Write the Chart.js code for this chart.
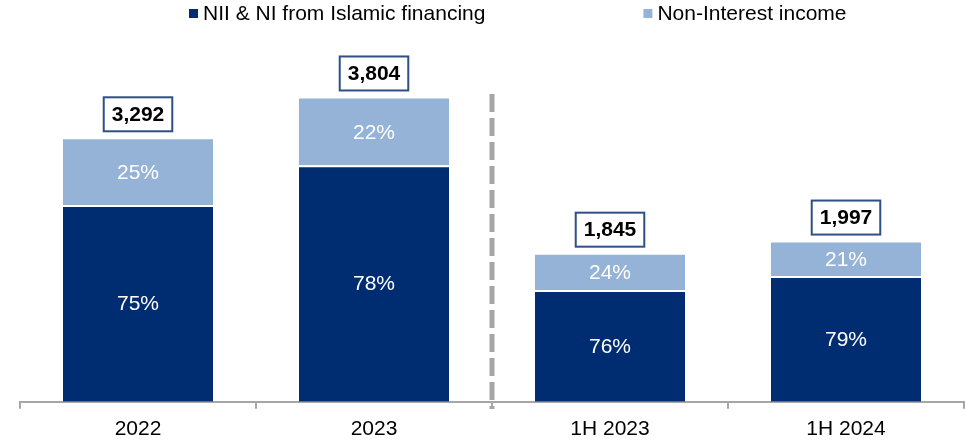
<!DOCTYPE html>
<html>
<head>
<meta charset="utf-8">
<script src="https://cdn.jsdelivr.net/npm/chart.js@4"></script>
<style>
    html, body { margin: 0; padding: 0; background: #fff; }
    #wrap { position: relative; width: 965px; height: 442px; }
</style>
</head>
<body>
<div id="wrap"><canvas id="incomeChart" width="965" height="442"></canvas></div>
<script>
// Chart data
var categories = ['2022', '2023', '1H 2023', '1H 2024'];
var seriesNames = ['NII & NI from Islamic financing', 'Non-Interest income'];
var niiValues = [2469, 2967, 1402, 1578];
var nonInterestValues = [823, 837, 443, 419];
var niiPct = ['75%', '78%', '76%', '79%'];
var nonInterestPct = ['25%', '22%', '24%', '21%'];
var totalLabels = ['3,292', '3,804', '1,845', '1,997'];

var DARK = '#002D72';
var LIGHT = '#95B3D7';
var GREY = '#A6A6A6';
var FONT = "'Liberation Sans', Arial, sans-serif";

// Percent labels inside segments + boxed totals on top
var labelPlugin = {
    id: 'labels',
    afterDatasetsDraw: function(chart) {
        var ctx = chart.ctx;
        var pctSets = [niiPct, nonInterestPct];
        ctx.save();
        ctx.textAlign = 'center';
        ctx.textBaseline = 'middle';
        ctx.font = '21px ' + FONT;
        ctx.fillStyle = '#fff';
        pctSets.forEach(function(pcts, di) {
            chart.getDatasetMeta(di).data.forEach(function(bar, i) {
                ctx.fillText(pcts[i], bar.x, (bar.y + bar.base) / 2 + 1);
            });
        });

        // totals
        var topMeta = chart.getDatasetMeta(1);
        ctx.font = 'bold 21px ' + FONT;
        topMeta.data.forEach(function(bar, i) {
            var w = ctx.measureText(totalLabels[i]).width + 16;
            var h = 34;
            var bottom = bar.y - 8;
            ctx.fillStyle = '#fff';
            ctx.fillRect(bar.x - w / 2, bottom - h, w, h);
            ctx.lineWidth = 2;
            ctx.strokeStyle = '#2F4F86';
            ctx.strokeRect(bar.x - w / 2, bottom - h, w, h);
            ctx.fillStyle = '#000';
            ctx.fillText(totalLabels[i], bar.x, bottom - h / 2 + 1);
        });
        ctx.restore();
    }
};

// Dashed divider between full years and half years
var dividerPlugin = {
    id: 'divider',
    afterDraw: function(chart) {
        var xs = chart.scales.x;
        var x = (xs.getPixelForValue(1) + xs.getPixelForValue(2)) / 2;
        var ctx = chart.ctx;
        ctx.save();
        ctx.strokeStyle = GREY;
        ctx.lineWidth = 5;
        ctx.setLineDash([18, 6]);
        ctx.beginPath();
        ctx.moveTo(x, 94);
        ctx.lineTo(x, 409);
        ctx.stroke();
        ctx.restore();
    }
};

// Legend drawn on canvas
var legendPlugin = {
    id: 'customLegend',
    afterDraw: function(chart) {
        var ctx = chart.ctx;
        var colors = [DARK, LIGHT];
        var x = 189;
        ctx.save();
        ctx.font = '21px ' + FONT;
        ctx.textBaseline = 'middle';
        ctx.textAlign = 'left';
        seriesNames.forEach(function(name, i) {
            ctx.fillStyle = colors[i];
            ctx.fillRect(x, 9, 9, 9);
            ctx.fillStyle = '#000';
            ctx.fillText(name, x + 14, 14);
            x += 14 + ctx.measureText(name).width + 158;
        });
        ctx.restore();
    }
};

new Chart(document.getElementById('incomeChart'), {
    type: 'bar',
    data: {
        labels: categories,
        datasets: [{
            label: seriesNames[0],
            data: niiValues,
            backgroundColor: DARK,
            borderColor: '#fff',
            borderWidth: { top: 2, left: 0, right: 0, bottom: 0 },
            borderSkipped: 'start',
            barPercentage: 0.636,
            categoryPercentage: 1
        }, {
            label: seriesNames[1],
            data: nonInterestValues,
            backgroundColor: LIGHT,
            borderWidth: 0,
            barPercentage: 0.636,
            categoryPercentage: 1
        }]
    },
    options: {
        responsive: false,
        animation: false,
        layout: { padding: { top: 35, left: 20, right: 1, bottom: -8 } },
        plugins: { legend: { display: false }, tooltip: { enabled: false } },
        scales: {
            x: {
                stacked: true,
                grid: { offset: true, drawOnChartArea: false, drawTicks: true, tickLength: 7, color: GREY, lineWidth: 2 },
                border: { color: GREY, width: 2 },
                ticks: { color: '#000', font: { family: FONT, size: 21 }, padding: 8 }
            },
            y: {
                stacked: true,
                display: false,
                min: 0,
                max: 4600
            }
        }
    },
    plugins: [labelPlugin, dividerPlugin, legendPlugin]
});
</script>
</body>
</html>
